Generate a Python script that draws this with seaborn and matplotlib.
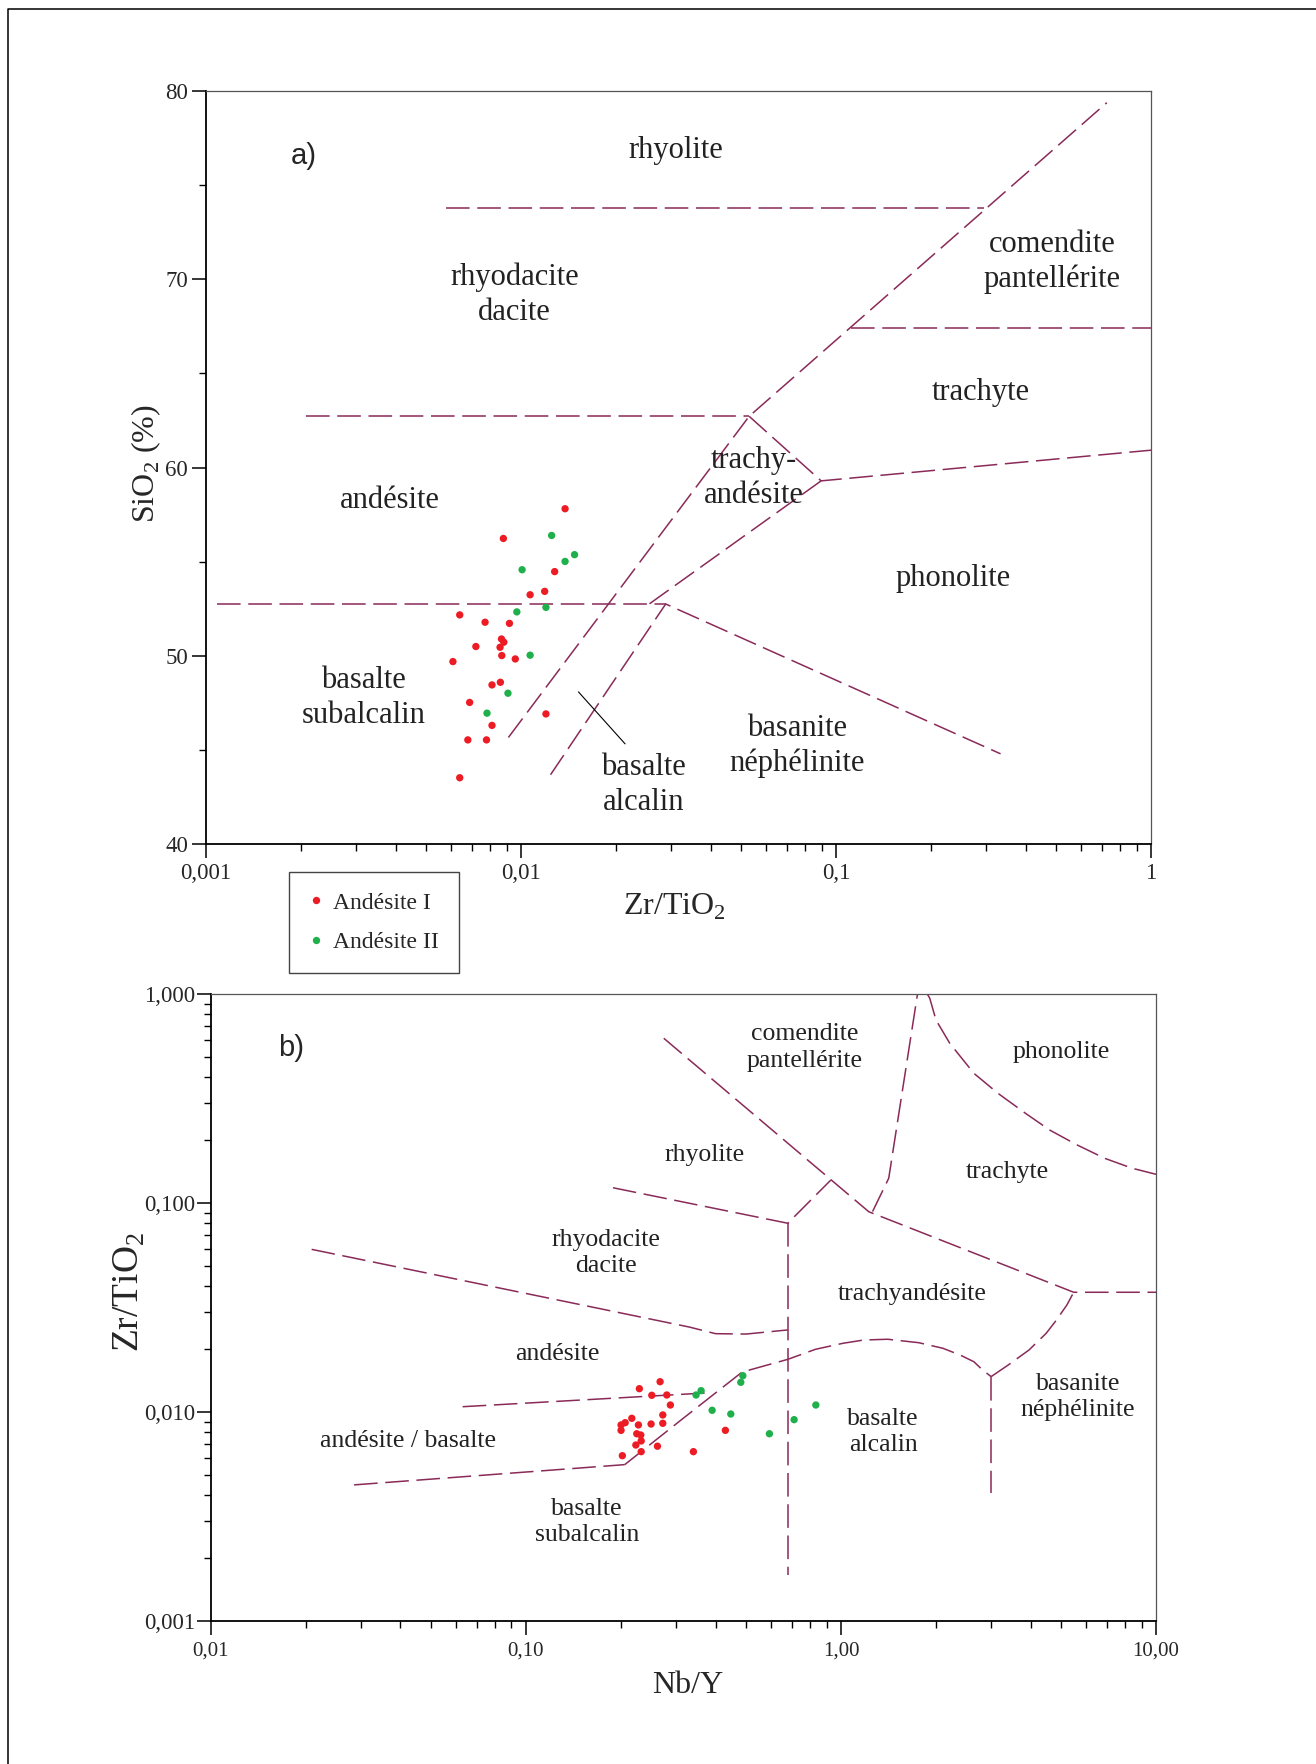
import numpy as np
import pandas as pd
import seaborn as sns
import matplotlib.pyplot as plt
from matplotlib.lines import Line2D
from matplotlib.ticker import LogLocator, NullFormatter

sns.set_style("ticks")
plt.rcParams["font.family"] = ["Liberation Serif", "DejaVu Serif"]
plt.rcParams["mathtext.fontset"] = "custom"
plt.rcParams["mathtext.rm"] = "Liberation Serif"
plt.rcParams["lines.scale_dashes"] = False

LINE = "#8a2a58"
RED = "#ed1c24"
GREEN = "#1fb04b"
DASH = (0, (17, 5.5))

# ---------------- a) SiO2 vs Zr/TiO2 ----------------
a_zr_ti_1 = [0.01380, 0.00879, 0.01279, 0.01069, 0.01189, 0.00639, 0.00769, 0.00919,
             0.00867, 0.00882, 0.00858, 0.00719, 0.00869, 0.00959, 0.00608, 0.00860,
             0.00809, 0.00687, 0.01200, 0.00809, 0.00678, 0.00777, 0.00639]
a_sio2_1 = [57.81, 56.23, 54.47, 53.24, 53.42, 52.17, 51.78, 51.72,
            50.89, 50.72, 50.45, 50.49, 50.01, 49.83, 49.69, 48.59,
            48.45, 47.52, 46.91, 46.30, 45.53, 45.53, 43.52]
a_zr_ti_2 = [0.01251, 0.01479, 0.01380, 0.01008, 0.00970, 0.01200, 0.01069, 0.00909, 0.00780]
a_sio2_2 = [56.39, 55.37, 55.01, 54.57, 52.33, 52.57, 50.03, 48.01, 46.95]

# boundaries (Zr/TiO2, SiO2)
a_rhy_x, a_rhy_y = [0.0058, 0.296], [73.8, 73.8]
a_diag_x, a_diag_y = [0.00912, 0.053, 0.724], [45.66, 62.72, 79.38]
a_and_x, a_and_y = [0.00208, 0.053], [62.72, 62.72]
a_tra_x, a_tra_y = [0.053, 0.0897, 1.0], [62.72, 59.29, 60.92]
a_pho_x, a_pho_y = [0.0897, 0.02553], [59.29, 52.75]
a_bas_x, a_bas_y = [0.00108, 0.0288], [52.75, 52.75]
a_alc_x, a_alc_y = [0.01241, 0.0288, 0.333], [43.68, 52.75, 44.79]
a_com_x, a_com_y = [0.1115, 1.0], [67.4, 67.4]
a_ptr_x, a_ptr_y = [0.01522, 0.0214], [48.08, 45.32]

a_labels = ["rhyolite", "rhyodacite\ndacite", "comendite\npantellérite", "trachyte",
            "trachy-\nandésite", "andésite", "phonolite", "basalte\nsubalcalin",
            "basanite\nnéphélinite", "basalte\nalcalin"]
a_label_x = [0.0309, 0.00952, 0.485, 0.289, 0.0548, 0.00382, 0.235, 0.00316, 0.075, 0.0245]
a_label_y = [76.85, 69.18, 70.91, 63.98, 59.43, 58.24, 54.11, 47.77, 45.2, 43.11]

a_xticks = [0.001, 0.01, 0.1, 1]
a_xtick_labels = ["0,001", "0,01", "0,1", "1"]
a_yticks = [40, 50, 60, 70, 80]

# ---------------- b) Zr/TiO2 vs Nb/Y ----------------
b_nb_y_1 = [0.2667, 0.2292, 0.2510, 0.2801, 0.2875, 0.2720, 0.2169, 0.2066, 0.2005,
            0.2005, 0.2276, 0.2497, 0.2720, 0.2249, 0.2316, 0.2323, 0.2234, 0.2616,
            0.2323, 0.2024, 0.3402, 0.4298]
b_zr_ti_1 = [0.01396, 0.01293, 0.01202, 0.01206, 0.01080, 0.00968, 0.00933, 0.00889,
             0.00867, 0.00817, 0.00867, 0.00876, 0.00883, 0.00787, 0.00776, 0.00727,
             0.00695, 0.00686, 0.00646, 0.00618, 0.00646, 0.00817]
b_nb_y_2 = [0.4883, 0.4810, 0.3599, 0.3469, 0.3901, 0.4471, 0.5929, 0.7102, 0.8324]
b_zr_ti_2 = [0.01492, 0.01387, 0.01265, 0.01206, 0.01019, 0.00978, 0.00787, 0.00919, 0.01080]

b_rdc_x, b_rdc_y = [0.0209, 0.33, 0.40, 0.50, 0.678], [0.0600, 0.0255, 0.0237, 0.0236, 0.0247]
b_rhy_x, b_rhy_y = [0.189, 0.678, 0.929], [0.1183, 0.080, 0.1288]
b_vrt_x, b_vrt_y = [0.678, 0.678], [0.080, 0.00166]
b_diag_x, b_diag_y = [0.274, 1.226, 5.48, 10.0], [0.614, 0.0908, 0.0374, 0.0374]
b_cot_x, b_cot_y = [1.26, 1.418, 1.75], [0.091, 0.1313, 1.0]
b_pho_x = [1.88, 1.914, 2.003, 2.215, 2.642, 3.150, 3.852, 4.595, 5.622, 6.874, 8.41, 10.0]
b_pho_y = [1.0, 0.954, 0.751, 0.581, 0.4174, 0.3349, 0.2687, 0.2235, 0.1895, 0.1636, 0.1466, 0.1372]
b_and_x, b_and_y = [0.0630, 0.3853], [0.0106, 0.01237]
b_low_x, b_low_y = [0.0285, 0.206], [0.00448, 0.0056]
b_alk_x = [0.206, 0.311, 0.4857, 0.678, 0.830, 1.015, 1.181, 1.408, 1.766, 2.106, 2.388,
           2.642, 2.779, 2.996]
b_alk_y = [0.0056, 0.00916, 0.01553, 0.01786, 0.01995, 0.02132, 0.0221, 0.02229, 0.02146,
           0.02018, 0.01874, 0.0174, 0.01618, 0.01476]
b_nep_x, b_nep_y = [2.996, 2.996], [0.01476, 0.00408]
b_bcv_x = [2.996, 3.397, 3.953, 4.481, 4.83, 5.213, 5.48]
b_bcv_y = [0.01476, 0.01679, 0.0198, 0.02379, 0.02754, 0.0325, 0.0374]

b_labels = ["comendite\npantellérite", "phonolite", "rhyolite", "trachyte",
            "rhyodacite\ndacite", "trachyandésite", "andésite", "basanite\nnéphélinite",
            "andésite / basalte", "basalte\nalcalin", "basalte\nsubalcalin"]
b_label_x = [0.766, 4.99, 0.368, 3.363, 0.180, 1.686, 0.1254, 5.645, 0.0423, 1.361, 0.1565]
b_label_y = [0.556, 0.530, 0.1693, 0.1407, 0.0576, 0.0365, 0.01888, 0.0118, 0.00727, 0.00803, 0.00298]

b_xticks = [0.01, 0.1, 1, 10]
b_xtick_labels = ["0,01", "0,10", "1,00", "10,00"]
b_yticks = [0.001, 0.01, 0.1, 1]
b_ytick_labels = ["0,001", "0,010", "0,100", "1,000"]

groups = ["Andésite I", "Andésite II"]
palette = {"Andésite I": RED, "Andésite II": GREEN}

df_a = pd.DataFrame({
    "zr_ti": a_zr_ti_1 + a_zr_ti_2,
    "sio2": a_sio2_1 + a_sio2_2,
    "groupe": [groups[0]] * len(a_zr_ti_1) + [groups[1]] * len(a_zr_ti_2),
})
df_b = pd.DataFrame({
    "nb_y": b_nb_y_1 + b_nb_y_2,
    "zr_ti": b_zr_ti_1 + b_zr_ti_2,
    "groupe": [groups[0]] * len(b_nb_y_1) + [groups[1]] * len(b_nb_y_2),
})

W, H = 1316, 1764
fig = plt.figure(figsize=(W / 100, H / 100), dpi=100)
ax_a = fig.add_axes([206 / W, 1 - 844 / H, 945 / W, 753 / H])
ax_b = fig.add_axes([210.8 / W, 1 - 1621 / H, 945.2 / W, 627 / H])


def style_axes(ax):
    for side in ["left", "bottom"]:
        ax.spines[side].set_color("black")
        ax.spines[side].set_linewidth(1.3)
    for side in ["top", "right"]:
        ax.spines[side].set_visible(True)
        ax.spines[side].set_color("#555555")
        ax.spines[side].set_linewidth(0.9)
    ax.tick_params(which="major", length=10, width=1.1, direction="out", color="black")
    ax.tick_params(which="minor", length=5, width=1.0, direction="out", color="black")
    ax.grid(False)


# ---- panel a
sns.scatterplot(data=df_a, x="zr_ti", y="sio2", hue="groupe", palette=palette,
                s=28, linewidth=0, ax=ax_a, zorder=3)
for xs, ys in [(a_rhy_x, a_rhy_y), (a_diag_x, a_diag_y), (a_and_x, a_and_y),
               (a_tra_x, a_tra_y), (a_pho_x, a_pho_y), (a_bas_x, a_bas_y),
               (a_alc_x, a_alc_y), (a_com_x, a_com_y)]:
    ax_a.plot(xs, ys, color=LINE, lw=1.1, ls=DASH, zorder=2)
ax_a.plot(a_ptr_x, a_ptr_y, color="black", lw=0.8, zorder=2)
for t, x, y in zip(a_labels, a_label_x, a_label_y):
    ax_a.text(x, y, t, ha="center", va="center", fontsize=22, linespacing=1.27, color="#222222")
ax_a.text(0.002048, 76.54, "a)", ha="center", va="center", fontsize=21,
          family=["Liberation Sans", "DejaVu Sans"])

ax_a.set_xscale("log")
ax_a.set_xlim(0.001, 1)
ax_a.set_ylim(40, 80)
ax_a.set_xticks(a_xticks)
ax_a.set_xticklabels(a_xtick_labels)
ax_a.xaxis.set_minor_locator(LogLocator(base=10, subs=np.arange(2, 10)))
ax_a.xaxis.set_minor_formatter(NullFormatter())
ax_a.set_yticks(a_yticks)
ax_a.set_yticks([45, 55, 65, 75], minor=True)
style_axes(ax_a)
ax_a.tick_params(axis="x", which="major", labelsize=16.5, pad=4)
ax_a.tick_params(axis="y", which="major", labelsize=16.5, pad=3)
ax_a.set_xlabel("Zr/TiO$_2$", fontsize=23)
ax_a.set_ylabel("SiO$_2$ (%)", fontsize=23)
ax_a.xaxis.set_label_coords(0.496, -0.063)
ax_a.yaxis.set_label_coords(-0.046, 0.505)

sns.move_legend(ax_a, "upper left", bbox_to_anchor=(0.0878, -0.0372), title=None,
                frameon=True, fontsize=17, borderpad=0.85, labelspacing=0.75,
                handlelength=0.6, handletextpad=0.4, borderaxespad=0,
                fancybox=False, edgecolor="#444444", framealpha=1)
ax_a.get_legend().get_frame().set_linewidth(1.0)

# ---- panel b
sns.scatterplot(data=df_b, x="nb_y", y="zr_ti", hue="groupe", palette=palette,
                s=28, linewidth=0, ax=ax_b, zorder=3, legend=False)
for xs, ys in [(b_rdc_x, b_rdc_y), (b_rhy_x, b_rhy_y), (b_vrt_x, b_vrt_y),
               (b_diag_x, b_diag_y), (b_cot_x, b_cot_y), (b_pho_x, b_pho_y),
               (b_and_x, b_and_y), (b_low_x, b_low_y), (b_alk_x, b_alk_y),
               (b_nep_x, b_nep_y), (b_bcv_x, b_bcv_y)]:
    ax_b.plot(xs, ys, color=LINE, lw=1.1, ls=DASH, zorder=2)
for t, x, y in zip(b_labels, b_label_x, b_label_y):
    ax_b.text(x, y, t, ha="center", va="center", fontsize=18.5, linespacing=1.27, color="#222222")
ax_b.text(0.01802, 0.5497, "b)", ha="center", va="center", fontsize=21,
          family=["Liberation Sans", "DejaVu Sans"])

ax_b.set_xscale("log")
ax_b.set_yscale("log")
ax_b.set_xlim(0.01, 10)
ax_b.set_ylim(0.001, 1)
ax_b.set_xticks(b_xticks)
ax_b.set_xticklabels(b_xtick_labels)
ax_b.set_yticks(b_yticks)
ax_b.set_yticklabels(b_ytick_labels)
for axis in [ax_b.xaxis, ax_b.yaxis]:
    axis.set_minor_locator(LogLocator(base=10, subs=np.arange(2, 10)))
    axis.set_minor_formatter(NullFormatter())
style_axes(ax_b)
ax_b.tick_params(axis="x", which="major", labelsize=15, pad=5)
ax_b.tick_params(axis="y", which="major", labelsize=16.5, pad=1)
ax_b.set_xlabel("Nb/Y", fontsize=23)
ax_b.set_ylabel("Zr/TiO$_2$", fontsize=27)
ax_b.xaxis.set_label_coords(0.505, -0.079)
ax_b.yaxis.set_label_coords(-0.068, 0.525)

# outer frame of the page
fig.add_artist(Line2D([8 / W, 8 / W, 1.0], [0.0, 1 - 9 / H, 1 - 9 / H],
                      transform=fig.transFigure, color="black", lw=1.1))

fig.savefig("out.png", dpi=100)
